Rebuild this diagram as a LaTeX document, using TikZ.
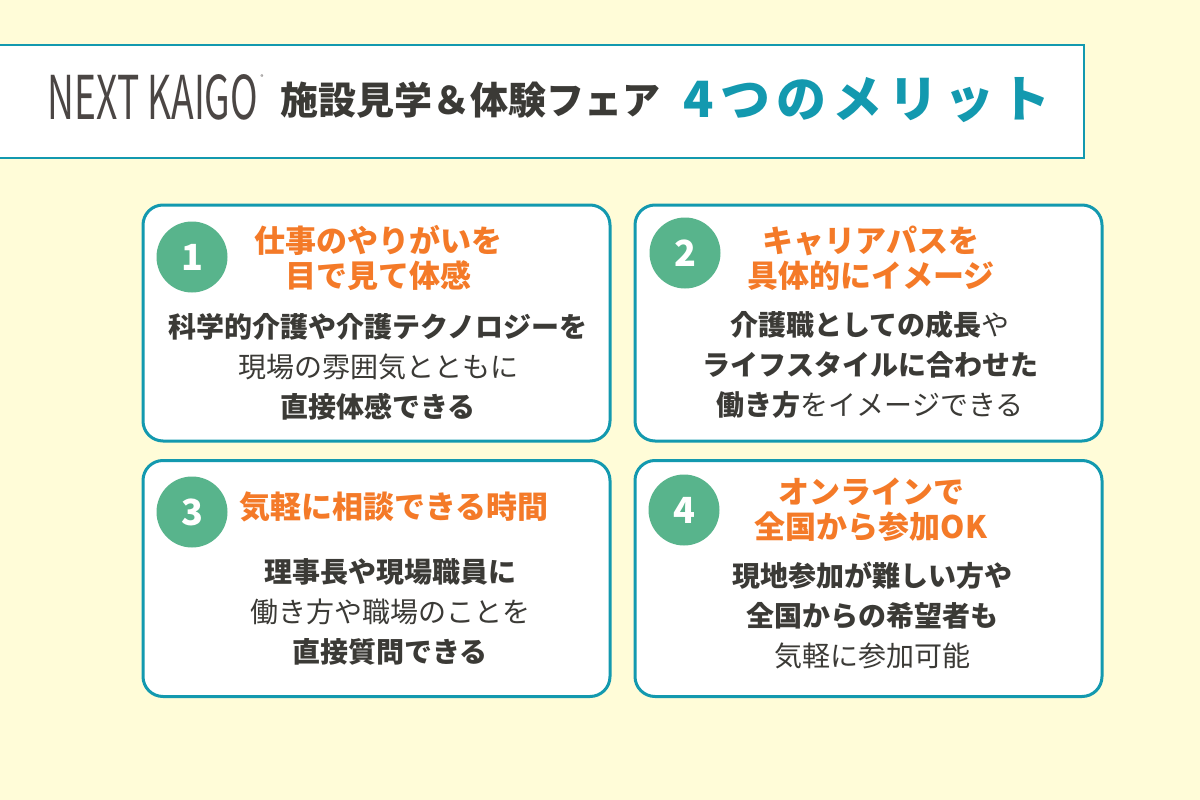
\documentclass[tikz,border=0pt]{standalone}
\usepackage{fontspec}
\setmainfont{Noto Sans CJK JP}
\newfontfamily\cjk{Noto Sans CJK JP}
\definecolor{bgyellow}{HTML}{FFFCD8}
\definecolor{teal}{HTML}{1399AF}
\definecolor{mintgreen}{HTML}{58B48C}
\definecolor{titleorange}{HTML}{F47A28}
\definecolor{textdark}{HTML}{3B3A36}
\definecolor{logogray}{HTML}{4B4644}
\tikzstyle{card}=[draw=teal, line width=3pt, fill=white, rounded corners=20pt, minimum width=467pt, minimum height=236pt, inner sep=0pt]
\tikzstyle{numcircle}=[circle, fill=mintgreen, minimum size=71pt, inner sep=0pt, text=white, font={\cjk\bfseries\fontsize{36}{36}\selectfont}]
\tikzstyle{cardtitle}=[text=titleorange, align=center, inner sep=0pt, font={\cjk\bfseries\fontsize{31}{35}\selectfont}]
\tikzstyle{cardbody}=[text=textdark, align=center, inner sep=0pt, font={\cjk\fontsize{28}{40}\selectfont}]

\begin{document}
\begin{tikzpicture}[x=1pt, y=-1pt]

    \fill[bgyellow] (0,0) rectangle (1200,800);
    \useasboundingbox (0,0) rectangle (1200,800);

    % header
    \node[draw=teal, line width=2pt, fill=white, minimum width=1100pt, minimum height=113pt, inner sep=0pt] (head) at (534,101.5) {};
    \node[text=logogray, inner sep=0pt] (logo) at (153,97.5) {\resizebox{210pt}{45pt}{\cjk NEXT KAIGO}};
    \node[text=logogray, inner sep=0pt, font={\cjk\fontsize{6}{6}\selectfont}] (reg) at (262,77) {®};
    \node[text=textdark, inner sep=0pt, font={\cjk\bfseries\fontsize{38}{38}\selectfont}] (fair) at (470,100) {施設見学＆体験フェア};
    \node[text=teal, inner sep=0pt, font={\cjk\bfseries\fontsize{50}{50}\selectfont\addfontfeature{LetterSpace=12}}] (merit) at (867,100) {4つのメリット};

    % cards
    \foreach \x/\y/\name in {376.5/323/c1, 868.5/323/c2, 376.5/578.5/c3, 868.5/578.5/c4}
        \node[card] (\name) at (\x,\y) {};

    \foreach \x/\y/\name/\num in {192/257/n1/1, 685/253/n2/2, 192/512/n3/3, 684/510/n4/4}
        \node[numcircle] (\name) at (\x,\y) {\num};

    \node[cardtitle] (t1) at (378,257.5) {仕事のやりがいを\\目で見て体感};
    \node[cardbody] (b1) at (378,367) {\textbf{科学的介護や介護テクノロジーを}\\現場の雰囲気とともに\\\textbf{直接体感できる}};

    \node[cardtitle] (t2) at (871,258.5) {キャリアパスを\\具体的にイメージ};
    \node[cardbody] (b2) at (870,365) {\textbf{介護職としての成長}や\\\textbf{ライフスタイルに合わせた}\\\textbf{働き方}をイメージできる};

    \node[cardtitle] (t3) at (394,507) {気軽に相談できる時間};
    \node[cardbody] (b3) at (390,611.5) {\textbf{理事長や現場職員に}\\働き方や職場のことを\\\textbf{直接質問できる}};

    \node[cardtitle] (t4) at (871,510) {オンラインで\\全国から参加OK};
    \node[cardbody] (b4) at (872,615.5) {\textbf{現地参加が難しい方や}\\\textbf{全国からの希望者も}\\気軽に参加可能};

\end{tikzpicture}
\end{document}
